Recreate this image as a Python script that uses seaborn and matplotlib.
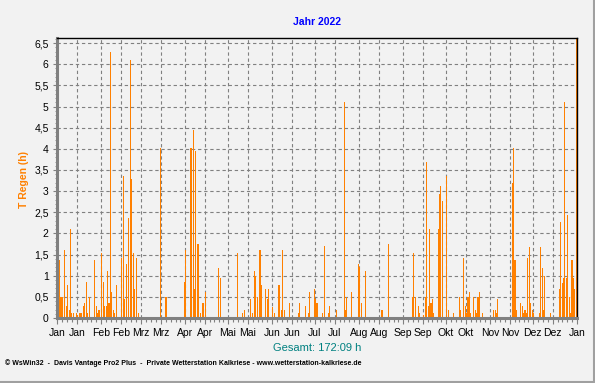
import numpy as np
import pandas as pd
import matplotlib
matplotlib.use("Agg")
import matplotlib.pyplot as plt
from matplotlib import ticker
from matplotlib.lines import Line2D
import seaborn as sns

sns.set_style("ticks")
plt.rcParams['font.family'] = ['Liberation Sans', 'DejaVu Sans']

# day of year (0 = 1 Jan 2022) with rain, and rain duration in hours
days = [0, 1, 2, 3, 5, 6, 7, 8, 9, 10, 11, 13, 14, 15, 16, 17, 18, 19, 20, 21, 22,
        26, 27, 28, 29, 31, 32, 33, 34, 35, 36, 37, 38, 39, 40, 41, 45, 46, 47, 48,
        50, 51, 52, 53, 54, 55, 57, 72, 76, 89, 90, 93, 94, 95, 96, 97, 98, 99, 100,
        102, 104, 113, 114, 126, 130, 131, 135, 137, 138, 139, 140, 142, 143, 146,
        147, 148, 151, 152, 155, 156, 157, 158, 159, 163, 169, 170, 174, 176, 177,
        180, 181, 182, 186, 187, 190, 191, 196, 201, 202, 203, 206, 211, 212, 213,
        216, 227, 228, 232, 249, 250, 251, 253, 254, 257, 258, 259, 260, 261, 262,
        263, 264, 267, 268, 269, 270, 273, 274, 278, 282, 283, 285, 286, 287, 288,
        289, 290, 292, 293, 294, 295, 296, 298, 306, 307, 308, 309, 319, 320, 321,
        322, 325, 326, 327, 328, 329, 330, 331, 332, 333, 334, 338, 339, 340, 341,
        342, 346, 352, 353, 354, 355, 356, 357, 358, 359, 360, 361, 362, 363, 364]
hours = [0.11, 1.37, 0.5, 0.5, 1.6, 0.28, 0.77, 0.19, 2.1, 0.11, 0.11, 0.11, 0.08, 0.11,
         0.11, 0.11, 0.28, 0.35, 0.85, 0.11, 0.5,
         1.37, 0.28, 0.11, 0.19, 1.53, 0.85, 0.28, 0.28, 1.11, 0.35, 6.28, 0.61, 0.19,
         0.11, 0.77, 1.42, 3.35, 0.44, 1.27,
         2.36, 6.11, 3.28, 1.53, 0.68, 1.43, 0.11, 4.03, 0.5, 0.85, 1.6, 4.03, 4.03, 4.44,
         0.68, 3.94, 1.76, 1.76, 0.11,
         0.35, 0.61, 1.18, 0.94, 1.53, 0.11, 0.19, 0.44, 0.11, 1.1, 0.99, 0.5, 1.6, 0.77,
         0.68,
         0.44, 0.68, 0.27, 0.11, 0.77, 0.77, 0.19, 1.6, 0.19, 0.35, 0.11, 0.35, 0.28,
         0.11, 0.61,
         0.68, 0.44, 0.35, 0.11, 1.7, 0.11, 0.28, 0.19, 5.1, 0.19, 0.5, 0.61, 1.27, 1.2,
         0.35,
         1.1, 0.19, 0.19, 1.76, 0.5, 1.53, 0.5, 0.28, 0.11, 0.08, 0.5, 3.69, 0.28, 2.1,
         0.35,
         0.44, 0.11, 2.1, 2.94, 3.12, 2.77, 3.35, 0.19, 0.11, 0.5, 0.19, 1.43, 0.28, 0.11,
         0.5,
         0.61, 0.11, 0.5, 0.19, 0.11, 0.5, 0.61, 0.11, 0.19, 0.19, 0.11, 0.44, 3.18, 4.03,
         1.37,
         0.19, 0.35, 0.28, 0.11, 0.19, 0.11, 1.43, 1.69, 0.35, 0.19, 0.11, 0.11, 1.69,
         1.18, 0.19,
         0.99, 0.11, 0.68, 2.27, 0.83, 0.94, 5.1, 0.94, 2.43, 0.5, 0.11, 1.37, 0.94, 0.68,
         6.7]

months = ['Jan', 'Feb', 'Mrz', 'Apr', 'Mai', 'Jun', 'Jul', 'Aug', 'Sep', 'Okt', 'Nov', 'Dez']
title = 'Jahr 2022'
total = 'Gesamt: 172:09 h'
footer = ('\u00a9 WsWin32  -  Davis Vantage Pro2 Plus  -  Private Wetterstation Kalkriese'
          ' - www.wetterstation-kalkriese.de')

# grid / label positions on the 1st and 15th of every month
grid_days = []
grid_labels = []
for m in range(1, 13):
    for d in (1, 15):
        grid_days.append(pd.Timestamp(2022, m, d).dayofyear - 1)
        grid_labels.append(months[m - 1])
grid_days.append(365)
grid_labels.append('Jan')

minor_days = []
for a, b in zip(grid_days[:-1], grid_days[1:]):
    n = int(round((b - a) / 3.5))
    minor_days += list(np.linspace(a, b, n + 1)[1:-1])

df = pd.DataFrame({'day': np.array(days) + 0.5, 'hours': hours})

bg = '#f2f2f2'
fig = plt.figure(figsize=(5.95, 3.83), dpi=100, facecolor=bg)
ax = fig.add_axes([57 / 595, 1 - 318 / 383, 520 / 595, 280 / 383])
ax.set_facecolor(bg)

sns.barplot(data=df, x='day', y='hours', native_scale=True, color='#ff8000',
            saturation=1, width=0.75, linewidth=0, errorbar=None, ax=ax)

ax.set_xlim(0, 365)
ax.set_ylim(0, 6.62)
ax.set_xticks(grid_days)
ax.set_xticklabels(grid_labels)
ax.set_xticks(minor_days, minor=True)
ax.set_yticks(np.arange(0, 6.51, 0.5))
ax.yaxis.set_major_formatter(ticker.FuncFormatter(
    lambda v, p: f"{v:g}".replace('.', ',')))
ax.yaxis.set_minor_locator(ticker.MultipleLocator(0.1))

ax.set_axisbelow(True)
ax.grid(True, which='major', color='#808080', linewidth=0.8, linestyle=(0, (3, 2.5)))
ax.set_xlabel('')
ax.set_ylabel('')

ax.tick_params(axis='both', which='both', colors='#808080', labelcolor='black',
               labelsize=7.5)
ax.tick_params(axis='x', which='major', length=4, width=0.8, pad=3)
ax.tick_params(axis='x', which='minor', length=3, width=0.8)
ax.tick_params(axis='y', which='major', length=3, width=0.8, pad=3)
ax.tick_params(axis='y', which='minor', length=1.5, width=0.6)

for s in ('left', 'bottom'):
    ax.spines[s].set_color('#808080')
    ax.spines[s].set_linewidth(2.2)
for s in ('top', 'right'):
    ax.spines[s].set_color('black')
    ax.spines[s].set_linewidth(1)
    ax.spines[s].set_visible(True)

fig.text(317 / 595, 1 - 22 / 383, title, ha='center', va='center',
         color='#0000ff', fontsize=7.5, fontweight='bold')
fig.text(24 / 595, 1 - 180 / 383, 'T Regen (h)', ha='center', va='center',
         rotation=90, color='#ff8000', fontsize=7.5, fontweight='bold')
fig.text(317 / 595, 1 - 348 / 383, total, ha='center', va='center',
         color='#008080', fontsize=8)
fig.text(5 / 595, 1 - 363 / 383, footer, ha='left', va='center',
         color='black', fontsize=5, fontweight='bold')

# light frame on the right and bottom of the picture
fig.add_artist(Line2D([593.5 / 595, 593.5 / 595], [1 - 381.5 / 383, 1],
                      transform=fig.transFigure, color='#a0a0a0', linewidth=1.5))
fig.add_artist(Line2D([0, 593.5 / 595], [1 - 381.5 / 383, 1 - 381.5 / 383],
                      transform=fig.transFigure, color='#a0a0a0', linewidth=1.5))

fig.savefig('out.png', dpi=100, facecolor=bg)
